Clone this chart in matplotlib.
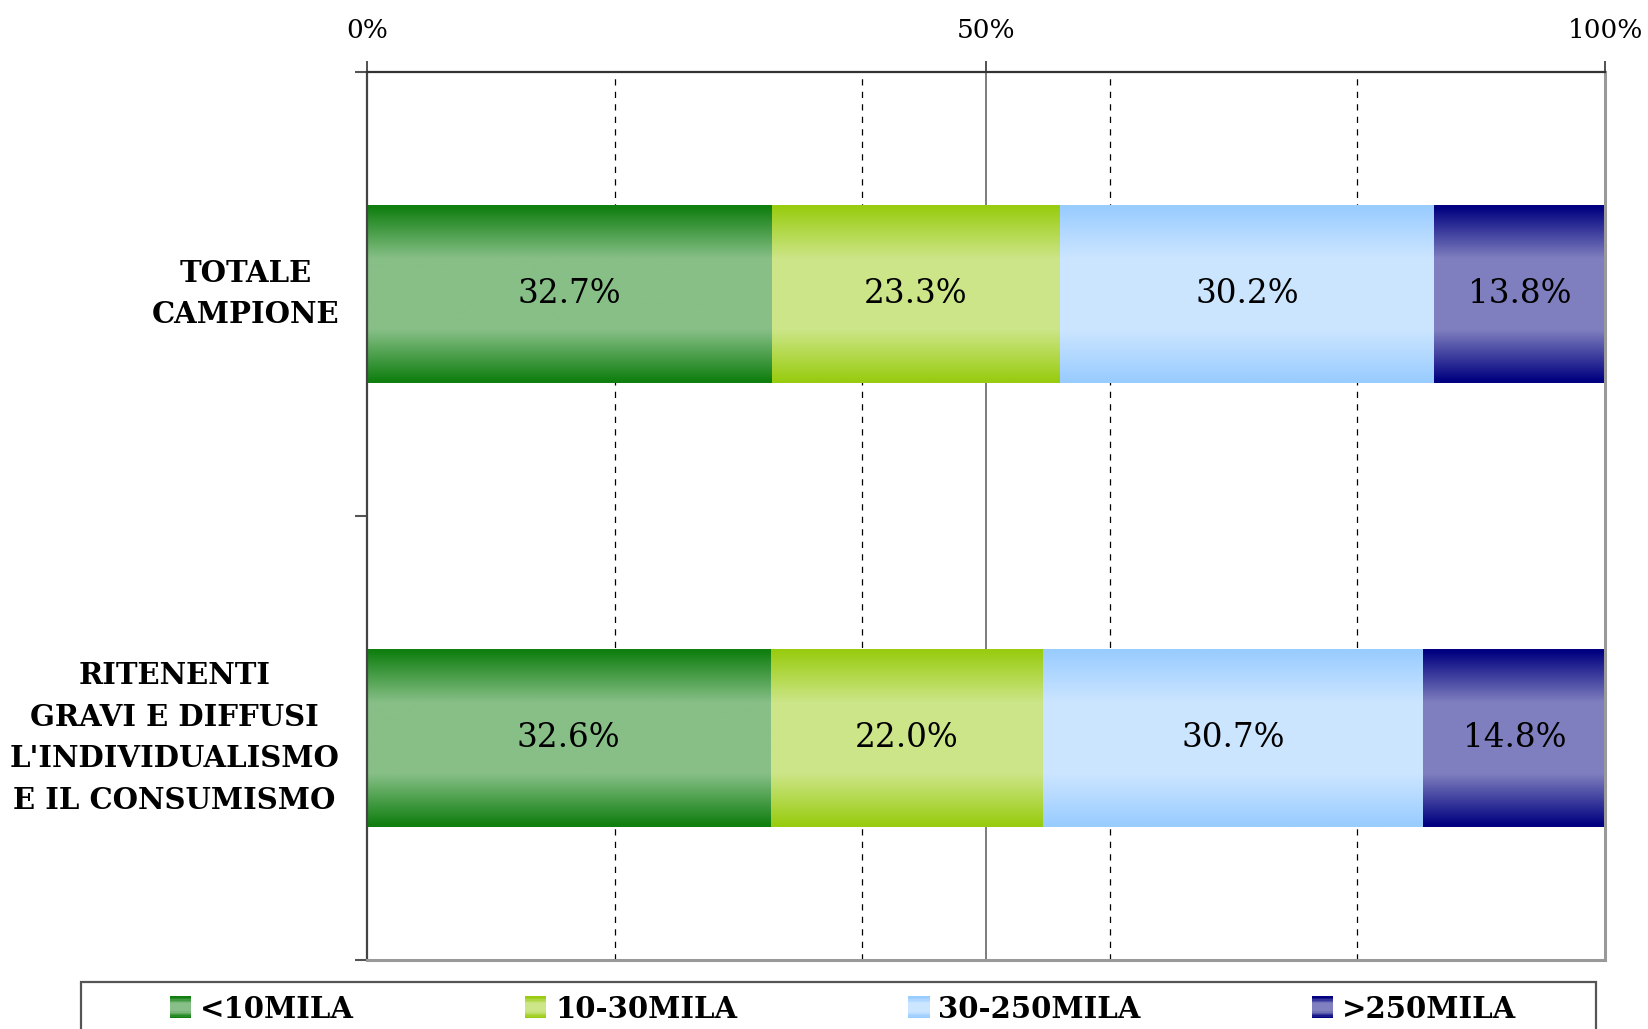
import numpy as np
import matplotlib
matplotlib.use("Agg")
import matplotlib.pyplot as plt
from matplotlib.patches import Rectangle, Patch
from matplotlib.legend_handler import HandlerBase
from matplotlib.colors import to_rgb

categories = ["TOTALE\nCAMPIONE", "RITENENTI\nGRAVI E DIFFUSI\nL'INDIVIDUALISMO\nE IL CONSUMISMO"]
series_names = ["<10MILA", "10-30MILA", "30-250MILA", ">250MILA"]
series_values = [
    [32.7, 32.6],
    [23.3, 22.0],
    [30.2, 30.7],
    [13.8, 14.8],
]
series_colors = ["#107F10", "#99CC11", "#99CCFF", "#000080"]
xtick_values = [0, 50, 100]
xtick_labels = ["0%", "50%", "100%"]

SERIF = ["DejaVu Serif"]


def profile(t):
    # 0 at edges (dark), 1 in middle (light)
    t = np.asarray(t)
    d = np.minimum(t, 1 - t)
    w = np.clip((d - 0.01) / 0.29, 0, 1)
    return w


def grad_colors(base, n=200):
    b = np.array(to_rgb(base))
    light = 0.5 * b + 0.5
    t = np.linspace(0, 1, n)
    w = profile(t)[:, None]
    return b[None, :] * (1 - w) + light[None, :] * w


fig = plt.figure(figsize=(16.48, 10.29), dpi=100)
ax = fig.add_axes([367 / 1648, 1 - 960 / 1029, (1605 - 367) / 1648, (960 - 72) / 1029])

y = np.arange(len(categories))
left = np.zeros(len(categories))
bar_h = 0.40
for name, vals, col in zip(series_names, series_values, series_colors):
    bars = ax.barh(y, vals, left=left, height=bar_h, color="none", edgecolor="none",
                   label=name, zorder=3)
    img = grad_colors(col)[:, None, :]
    for b, v in zip(bars, vals):
        x0, y0 = b.get_x(), b.get_y()
        w, h = b.get_width(), b.get_height()
        ax.imshow(img, extent=[x0, x0 + w, y0 + h, y0], aspect="auto",
                  interpolation="bilinear", zorder=3)
        ax.text(x0 + w / 2, y0 + h / 2, f"{v:.1f}%", ha="center", va="center",
                fontsize=23.5, family=SERIF, color="black", zorder=4)
    left = left + np.array(vals)

ax.set_xlim(0, 100)
ax.set_ylim(1.5, -0.5)

# grid
for gx in [20, 40, 60, 80]:
    ax.axvline(gx, color="black", lw=0.9, ls=(0, (5, 5)), zorder=1)
ax.axvline(50, color="#666666", lw=1.2, zorder=1)

ax.xaxis.tick_top()
ax.set_xticks(xtick_values)
ax.set_xticklabels(xtick_labels, family=SERIF, fontsize=19)
ax.tick_params(axis="x", which="major", direction="out", length=8, width=1.2,
               color="#333333", pad=13)

ax.set_yticks(y)
ax.set_yticklabels(categories, family=SERIF, fontsize=21, fontweight="bold",
                   multialignment="center", linespacing=1.54, va="center")
ax.set_yticks([-0.5, 0.5, 1.5], minor=True)
ax.tick_params(axis="y", which="major", length=0, pad=20)
ax.tick_params(axis="y", which="minor", length=9, width=1.5, color="#555555",
               direction="out")

ax.spines["top"].set_color("#333333")
ax.spines["top"].set_linewidth(1.6)
ax.spines["left"].set_color("#444444")
ax.spines["left"].set_linewidth(1.6)
ax.spines["right"].set_color("#999999")
ax.spines["right"].set_linewidth(2.2)
ax.spines["bottom"].set_color("#999999")
ax.spines["bottom"].set_linewidth(2.2)
for s in ax.spines.values():
    s.set_zorder(5)


class GradHandler(HandlerBase):
    def create_artists(self, legend, orig_handle, xdescent, ydescent, width, height,
                       fontsize, trans):
        cols = grad_colors(orig_handle.get_facecolor()[:3], n=16)
        size = height * 1.05
        x0 = -xdescent + width - size
        y0 = -ydescent + (height - size) / 2
        arts = []
        n = len(cols)
        for i, c in enumerate(cols[::-1]):
            r = Rectangle((x0, y0 + i * size / n), size, size / n + 0.3,
                          facecolor=c, edgecolor="none", transform=trans)
            arts.append(r)
        return arts


handles = [Patch(facecolor=c) for c in series_colors]
leg = fig.legend(handles, series_names, loc="center", bbox_to_anchor=(0.51, 1 - 1009 / 1029),
                 ncol=4, frameon=False, handler_map={Patch: GradHandler()},
                 prop={"family": SERIF, "weight": "bold", "size": 21},
                 columnspacing=5.7, handlelength=0.9, handletextpad=0.3)

box = Rectangle((81 / 1648, -0.05), (1596 - 81) / 1648, 0.05 + 1 - 982 / 1029,
                transform=fig.transFigure, facecolor="none", edgecolor="#555555",
                lw=1.6, clip_on=False)
fig.patches.append(box)

fig.savefig("out.png", dpi=100)
